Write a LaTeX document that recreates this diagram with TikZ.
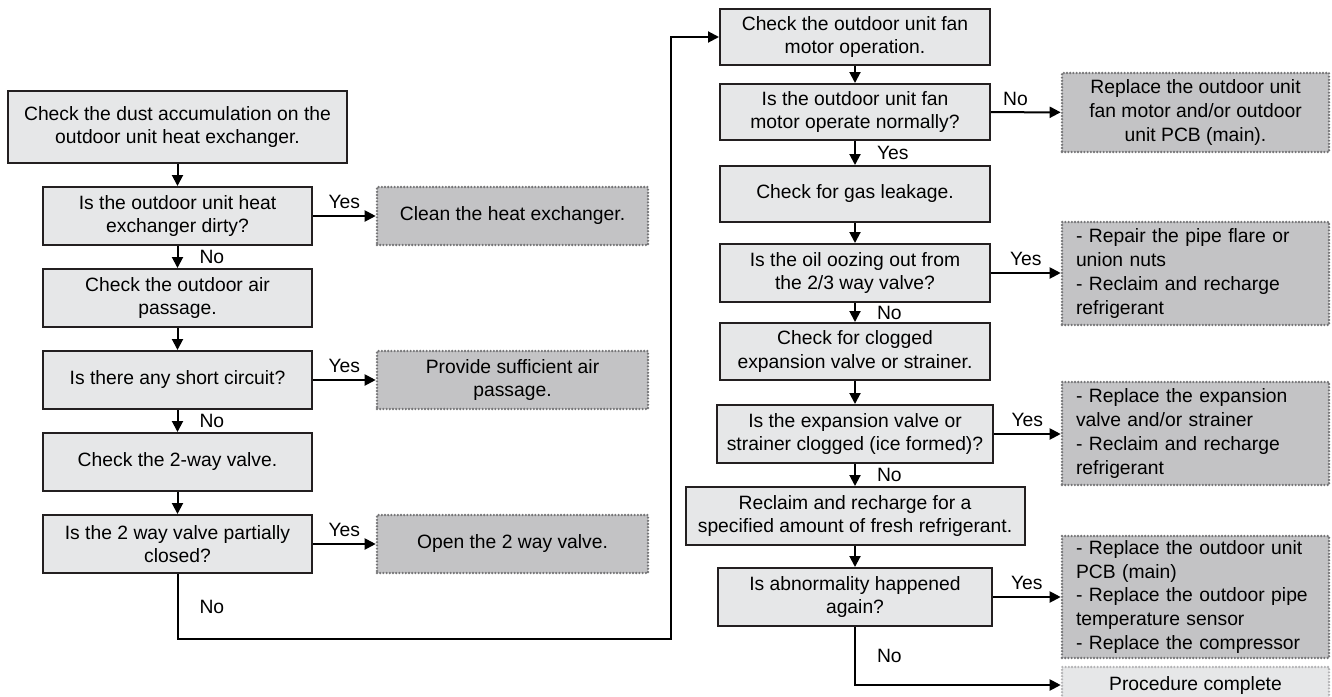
\documentclass[tikz,border=0pt]{standalone}
\usepackage{fontspec}
\setmainfont{Liberation Sans}
\usetikzlibrary{arrows.meta}
\definecolor{procfill}{RGB}{230,231,232}
\definecolor{actfill}{RGB}{195,195,197}
\definecolor{dotcol}{RGB}{118,118,120}
\definecolor{dotlight}{RGB}{180,180,182}
\definecolor{edgecol}{RGB}{35,31,32}
\begin{document}
\begin{tikzpicture}[x=1pt,y=-1pt,
  txt/.style={font=\fontsize{19.3pt}{23.7pt}\selectfont},
  proc/.style={txt, draw=edgecol, line width=2pt, fill=procfill, align=center, inner sep=0pt},
  act/.style={txt, draw=dotcol, fill=actfill, line width=2.6pt, dash pattern=on 0pt off 3.2pt, line cap=round, inner sep=0pt, align=center},
  actl/.style={act, align=left, text width=239pt, inner xsep=14pt, inner ysep=0pt},
  done/.style={act, draw=dotlight, fill=procfill},
  arr/.style={draw=black, line width=2pt, -{Triangle[length=11pt,width=11pt]}},
  lbl/.style={txt, inner sep=0pt}
]
\useasboundingbox (0,0) rectangle (1332,696);

% left column
\node[proc, minimum width=339pt, minimum height=72pt] (b1) at (177.5,127) {Check the dust accumulation on the\\outdoor unit heat exchanger.};
\node[proc, minimum width=269pt, minimum height=58pt] (b2) at (177.5,216) {Is the outdoor unit heat\\exchanger dirty?};
\node[act, minimum width=271pt, minimum height=58pt] (a1) at (512.5,216) {Clean the heat exchanger.};
\node[proc, minimum width=269pt, minimum height=58pt] (b3) at (177.5,298) {Check the outdoor air\\passage.};
\node[proc, minimum width=269pt, minimum height=58pt] (b4) at (177.5,380) {Is there any short circuit?};
\node[act, minimum width=271pt, minimum height=58pt] (a2) at (512.5,380) {Provide sufficient air\\passage.};
\node[proc, minimum width=269pt, minimum height=58pt] (b5) at (177.5,462) {Check the 2-way valve.};
\node[proc, minimum width=269pt, minimum height=58pt] (b6) at (177.5,544) {Is the 2 way valve partially\\closed?};
\node[act, minimum width=271pt, minimum height=58pt] (a3) at (512.5,544) {Open the 2 way valve.};

% right column
\node[proc, minimum width=270pt, minimum height=56pt] (r1) at (855,37) {Check the outdoor unit fan\\motor operation.};
\node[proc, minimum width=270pt, minimum height=56pt] (r2) at (855,112) {Is the outdoor unit fan\\motor operate normally?};
\node[act, minimum width=267pt, minimum height=79pt] (a4) at (1195.5,112.5) {Replace the outdoor unit\\fan motor and/or outdoor\\unit PCB (main).};
\node[proc, minimum width=270pt, minimum height=56pt] (r3) at (855,194) {Check for gas leakage.};
\node[proc, minimum width=270pt, minimum height=58pt] (r4) at (855,273) {Is the oil oozing out from\\the 2/3 way valve?};
\node[actl, minimum height=103pt] (a5) at (1195.5,273.5) {- Repair the pipe flare or\\union nuts\\- Reclaim and recharge\\refrigerant};
\node[proc, minimum width=270pt, minimum height=57pt] (r5) at (855,351.5) {Check for clogged\\expansion valve or strainer.};
\node[proc, minimum width=276pt, minimum height=58pt] (r6) at (855,434) {Is the expansion valve or\\strainer clogged (ice formed)?};
\node[actl, minimum height=103pt] (a6) at (1195.5,433.5) {- Replace the expansion\\valve and/or strainer\\- Reclaim and recharge\\refrigerant};
\node[proc, minimum width=339pt, minimum height=58pt] (r7) at (855,516) {Reclaim and recharge for a\\specified amount of fresh refrigerant.};
\node[proc, minimum width=274pt, minimum height=58pt] (r8) at (855,597) {Is abnormality happened\\again?};
\node[actl, minimum height=122pt] (a7) at (1195.5,597) {- Replace the outdoor unit\\PCB (main)\\- Replace the outdoor pipe\\temperature sensor\\- Replace the compressor};
\node[done, minimum width=267pt, minimum height=36pt] (pc) at (1195.5,685) {Procedure complete};

\coordinate (lp1) at (177.5,639);
\coordinate (lp2) at (671,639);

% connectors left
\draw[arr] (b1) -- (b2);
\draw[arr] (b2) -- node[lbl, above=6pt]{Yes} (a1);
\draw[arr] (b2) -- node[lbl, right=21pt]{No} (b3);
\draw[arr] (b3) -- (b4);
\draw[arr] (b4) -- node[lbl, above=6pt]{Yes} (a2);
\draw[arr] (b4) -- node[lbl, right=21pt]{No} (b5);
\draw[arr] (b5) -- (b6);
\draw[arr] (b6) -- node[lbl, above=6pt]{Yes} (a3);
\draw[arr] (b6.south) -- node[lbl, right=21pt]{No} (lp1) -- (lp2) |- (r1.west);

% connectors right
\draw[arr] (r1) -- (r2);
\draw[arr] (r2) -- node[lbl, above=6pt, pos=0.35]{No} (a4);
\draw[arr] (r2) -- node[lbl, right=21pt]{Yes} (r3);
\draw[arr] (r3) -- (r4);
\draw[arr] (r4) -- node[lbl, above=6pt]{Yes} (r4.east -| a5.west);
\draw[arr] (r4) -- node[lbl, right=21pt]{No} (r5);
\draw[arr] (r5) -- (r6);
\draw[arr] (r6) -- node[lbl, above=6pt]{Yes} (r6.east -| a6.west);
\draw[arr] (r6) -- node[lbl, right=21pt]{No} (r7);
\draw[arr] (r7) -- (r8);
\draw[arr] (r8) -- node[lbl, above=6pt]{Yes} (r8.east -| a7.west);
\draw[arr] (r8.south) |- node[lbl, pos=0.25, right=21pt]{No} (pc.west);
\end{tikzpicture}
\end{document}
